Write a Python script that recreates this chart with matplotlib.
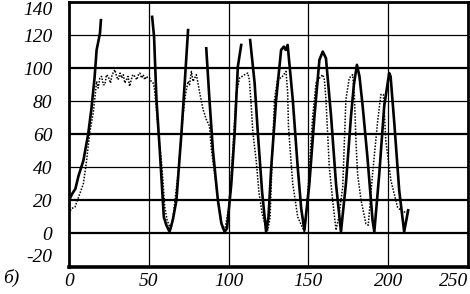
import numpy as np
import matplotlib.pyplot as plt

# solid trace (nan = break where the trace is cut off)
solid_x = [0, 2, 4, 6, 9, 12, 14, 16, 17.3, 19.4, 20, np.nan,
           52.1, 53.3, 54.8, 56.9, 59.4, 61, 63, 65, 67.3, 70.4, 72.5, 74.6, np.nan,
           86, 88, 90.2, 93.3, 95.5, 97.5, 99, 101.7, 103.8, 105.8, 107.9, np.nan,
           113.5, 116.3, 118.3, 121, 123.5, 125, 126.7, 129.8, 132.9, 134.6, 135.8, 137,
           140.2, 143.3, 145.5, 147.5, 150.6, 153.8, 156.9, 159, 161, 164.2, 167.3, 170.4,
           173.5, 176.7, 178.5, 180.4, 182, 184, 187, 190.2, 191.3, 194.4, 197.5, 200.6,
           201.5, 203.8, 206.9, 210, 212.5]
solid_y = [20, 24, 27, 35, 44, 60, 75, 94, 111, 121, 129, np.nan,
           131, 119, 81, 50, 10, 5, 1, 8, 20, 60, 91, 123, np.nan,
           112, 81, 50, 20, 6, 1, 3, 30, 61, 101, 114, np.nan,
           117, 91, 61, 25, 1, 10, 40, 81, 111, 113, 111, 114,
           81, 40, 15, 2, 30, 71, 105, 110, 106, 71, 30, 1,
           30, 71, 90, 102, 95, 77, 46, 8, 1, 36, 77, 97,
           95, 67, 26, 1, 14]

# dotted trace
dot_x = [0, 1.5, 3.75, 6, 9, 11, 13, 15.2, 16, 17.3, 18.3, 19.3, 20.4, 21.5, 22.5, 23.5,
         24.6, 26, 27, 28.75, 29.8, 30.8, 32, 33, 34, 35, 36, 37, 38, 39, 40, 41.25,
         42.5, 43.5, 44.4, 45.5, 46.5, 47.5, 48.5, 49.5, 50.6, 51.5, 52.7, 53.5, 54.8,
         56, 57.9, 59, 60, 61.5, 63.1, 64, 65.2, 68.3, 71.4, 73, 74.6, 75.5, 76.7, 77.7,
         78.7, 79.8, 81, 81.9, 84, 86, 88, 89.2, 91.2, 93.3, 95, 96.5, 98, 100, 102,
         104.8, 106.9, 108.5, 110, 112, 113, 114.2, 115.2, 117.3, 119, 121, 123, 124.6,
         126, 127.5, 128.75, 130.8, 132.9, 134.5, 136, 137, 137.5, 139, 140.2, 143.3,
         147.5, 149, 150.6, 152.7, 154.8, 157, 159, 160, 161, 163.1, 165.2, 167.3, 169,
         171.5, 173.5, 175.6, 177.7, 178.75, 179.8, 180.8, 183, 186, 187.5, 190.2, 193.3,
         195.4, 197, 198.5, 201.7, 205.8, 208.9, 212.5]
dot_y = [12, 15, 16, 22, 30, 44, 61, 73, 80, 92, 88, 94, 95, 90, 90, 96,
         95, 91, 96, 99, 95, 93, 97, 94, 96, 91, 93, 95, 89, 93, 96, 95,
         93, 96, 97, 94, 96, 93, 95, 94, 94, 92, 91, 88, 75,
         60, 44, 30, 16, 8, 4, 3, 10, 36, 71, 84, 92, 90, 98, 92,
         94, 96, 90, 85, 75, 69, 65, 51, 36, 20, 8, 2, 4, 15, 40,
         85, 94, 95, 96, 97, 93, 77, 61, 44, 25, 12, 5, 2,
         10, 50, 81, 94, 94, 96, 98, 85, 65, 45, 30, 10,
         1, 15, 40, 71, 91, 94, 96, 93, 81, 40, 20, 2, 10,
         28, 81, 94, 96, 85, 56, 36, 20, 6, 5, 36, 67,
         84, 84, 56, 32, 16, 13, 13]

x_ticks = [0, 50, 100, 150, 200, 250]
y_ticks = [-20, 0, 20, 40, 60, 80, 100, 120, 140]
thick_y = [0, 20, 60, 100]
thin_y = [40, 80, 120]

plt.rcParams['font.family'] = ['Liberation Serif', 'DejaVu Serif']
plt.rcParams['font.style'] = 'italic'
plt.rcParams['axes.unicode_minus'] = False

fig = plt.figure(figsize=(4.7, 2.94), dpi=100)
ax = fig.add_axes([69/470, 1 - 266.5/294, 399/470, 264.5/294])

for v in thick_y:
    ax.axhline(v, color='k', lw=1.6, zorder=1)
for v in thin_y:
    ax.axhline(v, color='k', lw=0.9, zorder=1)
for v in x_ticks[1:-1]:
    ax.axvline(v, color='k', lw=0.9, zorder=1)

ax.plot(dot_x, dot_y, color='k', lw=1.1, linestyle=(0, (1, 1)), zorder=2)
ax.plot(solid_x, solid_y, color='k', lw=1.9, zorder=3)

ax.set_xlim(0, 250)
ax.set_ylim(-20, 140)
ax.set_xticks(x_ticks)
ax.set_yticks(y_ticks)
ax.tick_params(length=0, labelsize=14)
ax.tick_params(axis='y', pad=12)
ax.tick_params(axis='x', pad=5)
for lab in ax.get_xticklabels() + ax.get_yticklabels():
    lab.set_fontstyle('italic')
ax.get_xticklabels()[-1].set_horizontalalignment('right')
ax.get_yticklabels()[0].set_verticalalignment('bottom')
ax.get_yticklabels()[-1].set_verticalalignment('top')

for s in ['left', 'top', 'right']:
    ax.spines[s].set_linewidth(2)
ax.spines['bottom'].set_linewidth(2.6)

fig.text(11/470, 1 - 278/294, 'б)', fontsize=14, fontstyle='italic',
         ha='center', va='center')

fig.savefig('out.png', dpi=100)
